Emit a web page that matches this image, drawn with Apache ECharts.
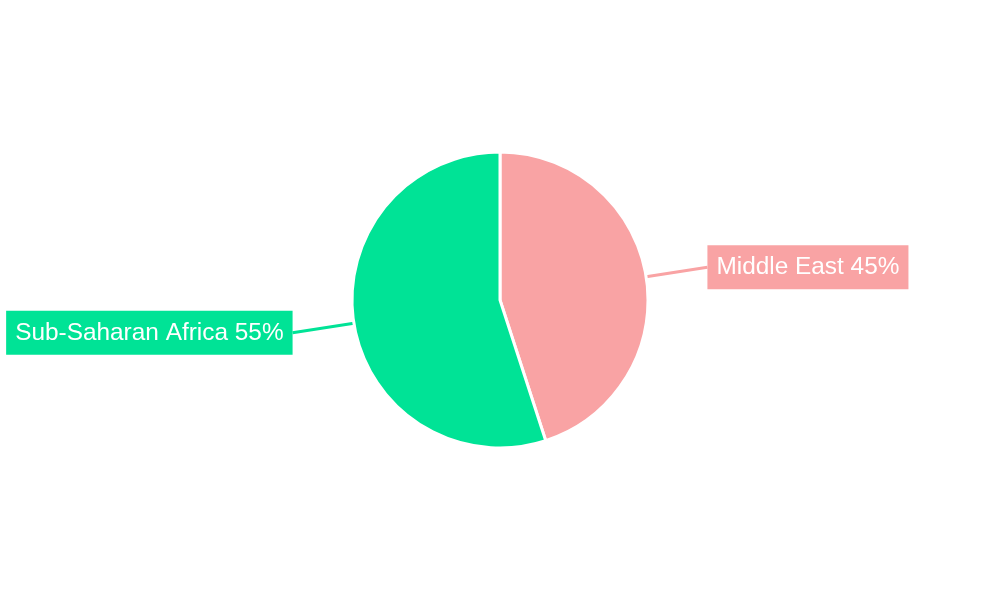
<!DOCTYPE html>
<html>
<head>
<meta charset="utf-8">
<script src="https://cdn.jsdelivr.net/npm/echarts@6/dist/echarts.min.js"></script>
<style>html,body{margin:0;padding:0;background:#fff}#c{width:1000px;height:600px}</style>
</head>
<body>
<div id="c"></div>
<script>
const categories = ["Middle East", "Sub-Saharan Africa"];
const values = [45, 55];
const colors = ["#F9A3A4", "#00E396"];

const chart = echarts.init(document.getElementById('c'));
chart.setOption({
  animation: false,
  backgroundColor: '#ffffff',
  series: [{
    type: 'pie',
    center: [500, 300],
    radius: [0, 148],
    startAngle: 90,
    clockwise: true,
    data: categories.map((c, i) => ({ name: c, value: values[i], itemStyle: { color: colors[i] } })),
    itemStyle: { borderColor: '#ffffff', borderWidth: 3 },
    label: {
      show: true,
      formatter: p => p.name + ' ' + p.value + '%',
      color: '#ffffff',
      fontFamily: 'Liberation Sans, Arial, sans-serif',
      fontSize: 24.4,
      lineHeight: 26,
      padding: [9, 9, 9, 9],
      backgroundColor: 'inherit',
      distanceToLabelLine: 0,
      overflow: 'none',
      bleedMargin: 0
    },
    labelLine: { show: true, length: 62, length2: 0, lineStyle: { width: 3 } },
    emphasis: { disabled: true }
  }]
});
</script>
</body>
</html>
